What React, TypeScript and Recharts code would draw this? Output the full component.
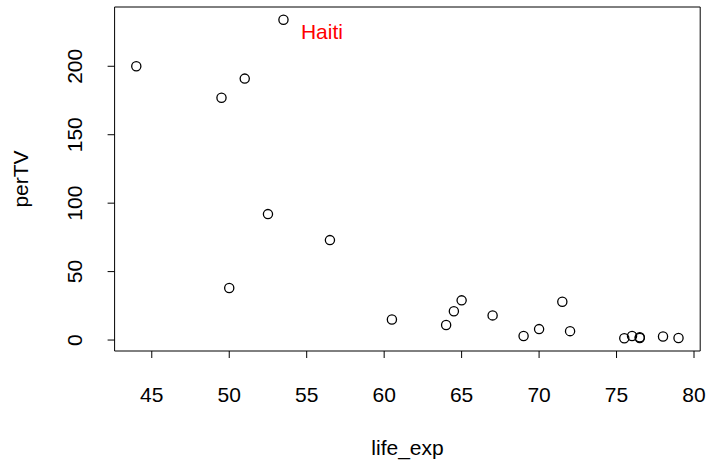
import {
    ScatterChart,
    Scatter,
    XAxis,
    YAxis,
    ReferenceArea,
    ReferenceDot,
} from "recharts";

// life expectancy vs people per TV
const lifeExp = [44, 53.5, 51, 49.5, 52.5, 56.5, 50, 60.5, 64, 64.5, 65, 67, 69, 70, 71.5, 72, 75.5, 76, 76.5, 76.5, 78, 79];
const perTV = [200, 234, 191, 177, 92, 73, 38, 15, 11, 21, 29, 18, 3, 8, 28, 6.5, 1.3, 3, 1.5, 2, 2.6, 1.5];
const countries = ["", "Haiti", "", "", "", "", "", "", "", "", "", "", "", "", "", "", "", "", "", "", "", ""];

const xTicks = [45, 50, 55, 60, 65, 70, 75, 80];
const yTicks = [0, 50, 100, 150, 200];

const FONT = "'Liberation Sans', Arial, Helvetica, sans-serif";
const FS = 21;

const points = lifeExp.map((x, i) => ({ life_exp: x, perTV: perTV[i], name: countries[i] }));
const haiti = points.find((p) => p.name === "Haiti")!;

// R style axis range: data range padded by 4% on each side
function rRange(v: number[]): [number, number] {
    const lo = Math.min(...v);
    const hi = Math.max(...v);
    const pad = (hi - lo) * 0.04;
    return [lo - pad, hi + pad];
}

const xDomain = rRange(lifeExp);
const yDomain = rRange(perTV);

function XTick(props: any) {
    const { x, payload } = props;
    return (
        <text x={x} y={401.7} textAnchor="middle" fontSize={FS} fontFamily={FONT} fill="#000">
            {payload.value}
        </text>
    );
}

function YTick(props: any) {
    const { y, payload } = props;
    return (
        <text
            x={82}
            y={y}
            textAnchor="middle"
            fontSize={FS}
            fontFamily={FONT}
            fill="#000"
            transform={`rotate(-90, 82, ${y})`}
        >
            {payload.value}
        </text>
    );
}

function OpenCircle(props: any) {
    return <circle cx={props.cx} cy={props.cy} r={4.6} fill="none" stroke="#000" strokeWidth={1.3} />;
}

export default function App() {
    return (
        <div style={{ position: "absolute", left: 0, top: 0, width: 709, height: 463, background: "#fff" }}>
            <ScatterChart
                width={709}
                height={463}
                margin={{ top: 7, right: 8.8, bottom: 12, left: 14.6 }}
            >
                <XAxis
                    type="number"
                    dataKey="life_exp"
                    domain={xDomain}
                    ticks={xTicks}
                    allowDataOverflow
                    height={100}
                    axisLine={false}
                    tickLine={{ stroke: "#000", strokeWidth: 1 }}
                    tickSize={7}
                    tick={<XTick />}
                    label={{
                        content: () => (
                            <text x={407.5} y={454.5} textAnchor="middle" fontSize={FS} fontFamily={FONT} fill="#000">
                                life_exp
                            </text>
                        ),
                    }}
                />
                <YAxis
                    type="number"
                    dataKey="perTV"
                    domain={yDomain}
                    ticks={yTicks}
                    allowDataOverflow
                    width={100}
                    axisLine={false}
                    tickLine={{ stroke: "#000", strokeWidth: 1 }}
                    tickSize={7}
                    tick={<YTick />}
                    label={{
                        content: () => (
                            <text
                                x={28}
                                y={179}
                                textAnchor="middle"
                                fontSize={FS}
                                fontFamily={FONT}
                                fill="#000"
                                transform="rotate(-90, 28, 179)"
                            >
                                perTV
                            </text>
                        ),
                    }}
                />
                <ReferenceArea
                    x1={xDomain[0]}
                    x2={xDomain[1]}
                    y1={yDomain[0]}
                    y2={yDomain[1]}
                    fill="none"
                    fillOpacity={0}
                    stroke="#000"
                    strokeWidth={1}
                    strokeOpacity={1}
                />
                <Scatter data={points} shape={<OpenCircle />} isAnimationActive={false} />
                <ReferenceDot
                    x={haiti.life_exp}
                    y={haiti.perTV}
                    r={0}
                    stroke="none"
                    label={{
                        content: (p: any) => {
                            const vb = p.viewBox || {};
                            const cx = (vb.x ?? 0) + (vb.width ?? 0) / 2;
                            const cy = (vb.y ?? 0) + (vb.height ?? 0) / 2;
                            return (
                                <text x={cx + 17.5} y={cy + 19.3} fontSize={FS} fontFamily={FONT} fill="#ff0000">
                                    {haiti.name}
                                </text>
                            );
                        },
                    }}
                />
            </ScatterChart>
        </div>
    );
}
